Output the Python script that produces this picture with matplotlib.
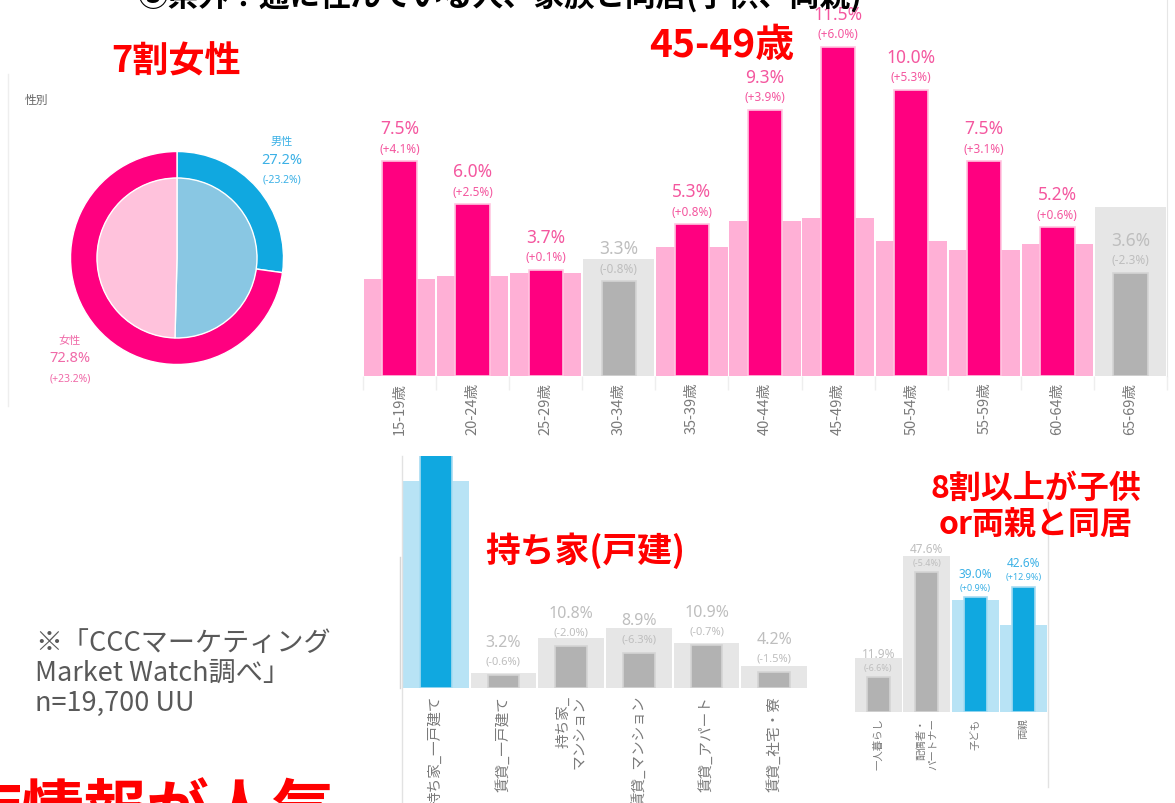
import matplotlib
matplotlib.use('Agg')
import matplotlib.pyplot as plt
from matplotlib.lines import Line2D
import numpy as np

plt.rcParams['font.family'] = ['Noto Sans CJK JP', 'DejaVu Sans']

# ---------------- data ----------------
gender_labels = ['男性', '女性']
gender_values = [27.2, 72.8]
gender_diff = [-23.2, 23.2]

age_labels = ['15-19歳', '20-24歳', '25-29歳', '30-34歳', '35-39歳', '40-44歳',
              '45-49歳', '50-54歳', '55-59歳', '60-64歳', '65-69歳']
age_values = [7.5, 6.0, 3.7, 3.3, 5.3, 9.3, 11.5, 10.0, 7.5, 5.2, 3.6]
age_diff = [4.1, 2.5, 0.1, -0.8, 0.8, 3.9, 6.0, 5.3, 3.1, 0.6, -2.3]

housing_labels = ['持ち家_一戸建て', '賃貸_一戸建て', '持ち家_\nマンション',
                  '賃貸_マンション', '賃貸_アパート', '賃貸_社宅・寮']
housing_values = [62.5, 3.2, 10.8, 8.9, 10.9, 4.2]
housing_diff = [9.7, -0.6, -2.0, -6.3, -0.7, -1.5]

household_labels = ['一人暮らし', '配偶者・\nパートナー', '子ども', '両親']
household_values = [11.9, 47.6, 39.0, 42.6]
household_diff = [-6.6, -5.4, 0.9, 12.9]

# ---------------- colours ----------------
PINK = '#ff0080'
PINK_BG = '#ffb0d6'
PINK_EDGE = '#ffc6e0'
PINK_TXT = '#f4579f'
BLUE = '#10a8e0'
BLUE_BG = '#b8e3f5'
BLUE_EDGE = '#a8dcf2'
BLUE_TXT = '#3cb1e6'
GRAY = '#b2b2b2'
GRAY_BG = '#e6e6e6'
GRAY_EDGE = '#d4d4d4'
GRAY_TXT = '#bebebe'
RED = '#ff0000'
TICK_COL = '#7a7a7a'

W, H = 1175, 804
fig = plt.figure(figsize=(W / 100, H / 100), dpi=100)


def add_ax(left, top, right, bottom):
    return fig.add_axes([left / W, 1 - bottom / H, (right - left) / W, (bottom - top) / H])


def ftext(x, y, s, **kw):
    fig.text(x / W, 1 - y / H, s, **kw)


def fline(x0, y0, x1, y1, **kw):
    fig.add_artist(Line2D([x0 / W, x1 / W], [1 - y0 / H, 1 - y1 / H], **kw))


def draw_bars(ax, values, diffs, hi, hi_bg, hi_edge, hi_txt,
              pct_fs, diff_fs, pct_off, diff_off):
    x = np.arange(len(values))
    bench = [v - d for v, d in zip(values, diffs)]
    pos = [d > 0 for d in diffs]
    ax.bar(x, bench, width=0.975, color=[hi_bg if p else GRAY_BG for p in pos],
           linewidth=0, zorder=1)
    ax.bar(x, values, width=0.47, color=[hi if p else GRAY for p in pos],
           edgecolor=[hi_edge if p else GRAY_EDGE for p in pos], linewidth=1.2, zorder=2)
    for xi, v, d, p in zip(x, values, diffs, pos):
        col = hi_txt if p else GRAY_TXT
        ax.annotate(f'{v:.1f}%', (xi, v), xytext=(0, pct_off), textcoords='offset pixels',
                    ha='center', va='center', fontsize=pct_fs, color=col,
                    family=['Noto Sans', 'DejaVu Sans'], annotation_clip=True, zorder=3)
        ax.annotate(f'({d:+.1f}%)', (xi, v), xytext=(0, diff_off), textcoords='offset pixels',
                    ha='center', va='center', fontsize=diff_fs, color=col,
                    family=['Noto Sans', 'DejaVu Sans'], annotation_clip=True, zorder=3)
    ax.set_xlim(-0.5, len(values) - 0.5)
    for s in ax.spines.values():
        s.set_visible(False)
    ax.set_yticks([])
    return x


# ---------------- title (cut at top) ----------------
ftext(500, -4, '③県外？通に住んでいる人、家族と同居(子供、両親)', ha='center', va='center',
      fontsize=22, fontweight='bold', color='black')

# ---------------- gender donut ----------------
fline(8, 75, 8, 407, color='#eeeeee', lw=1)
ftext(36, 100, '性別', ha='center', va='center', fontsize=8.5, color='#666666')
cx, cy, R = 177, 259, 120
axp = add_ax(cx - R, cy - R, cx + R, cy + R)
axp.pie(gender_values, radius=106.5 / R, startangle=90, counterclock=False,
        colors=[BLUE, PINK], wedgeprops=dict(width=27 / R, edgecolor='white', linewidth=1))
axp.pie([v - d for v, d in zip(gender_values, gender_diff)], radius=80 / R, startangle=90,
        counterclock=False, colors=['#89c7e3', '#ffc2dc'],
        wedgeprops=dict(edgecolor='white', linewidth=1))
axp.set_xlim(-1, 1)
axp.set_ylim(-1, 1)
axp.set_aspect('equal')
axp.axis('off')

gtxt = ['#3cb1e6', '#f06aa8']
gpos = [(282, 142), (70, 341)]
for (gx, gy), lab, v, d, c in zip(gpos, gender_labels, gender_values, gender_diff, gtxt):
    ftext(gx, gy, lab, ha='center', va='center', fontsize=8, color=c)
    ftext(gx, gy + 18, f'{v:.1f}%', ha='center', va='center', fontsize=10.5, color=c,
          family=['Noto Sans', 'DejaVu Sans'])
    ftext(gx, gy + 38, f'({d:+.1f}%)', ha='center', va='center', fontsize=7.5, color=c,
          family=['Noto Sans', 'DejaVu Sans'])

ftext(176, 62, '7割女性', ha='center', va='center', fontsize=26, fontweight='bold', color=RED)

# ---------------- age chart ----------------
axa = add_ax(363, 0, 1167, 377)
xa = draw_bars(axa, age_values, age_diff, PINK, PINK_BG, PINK_EDGE, PINK_TXT,
               12.5, 8.5, 33, 13)
axa.set_ylim(0, 377 / 28.65)
axa.set_xticks(xa, age_labels, rotation=90, fontsize=10.5, color=TICK_COL)
axa.tick_params(axis='x', length=0, pad=4)
axa.set_xticks(np.arange(len(age_values) + 1) - 0.5, minor=True)
axa.tick_params(axis='x', which='minor', length=10, color='#eeeeee', width=1)
axa.spines['right'].set_visible(True)
axa.spines['right'].set_color('#e6e6e6')

ftext(722, 46, '45-49歳', ha='center', va='center', fontsize=28, fontweight='bold', color=RED)

# ---------------- housing chart ----------------
axh = add_ax(402, 457, 808, 689)
xh = draw_bars(axh, housing_values, housing_diff, BLUE, BLUE_BG, BLUE_EDGE, GRAY_TXT,
               11.5, 8, 33, 14)
axh.set_ylim(0, (689 - 457) / 3.92)
axh.set_xticks(xh, housing_labels, rotation=90, fontsize=10.5, color=TICK_COL,
               multialignment='right')
axh.tick_params(axis='x', length=0, pad=5)
axh.plot([0, 0], [1, (689 - 804) / (689 - 457)], transform=axh.transAxes,
         color='#e2e2e2', lw=1, clip_on=False)
fline(399.5, 558, 399.5, 689, color='#d6d6d6', lw=1)

ftext(585, 551, '持ち家(戸建)', ha='center', va='center', fontsize=25, fontweight='bold',
      color=RED)

# ---------------- household chart ----------------
axo = add_ax(854, 505, 1048, 713)
xo = draw_bars(axo, household_values, household_diff, BLUE, BLUE_BG, BLUE_EDGE, BLUE_TXT,
               8.5, 6.5, 24, 10)
axo.set_ylim(0, (713 - 505) / 2.94)
axo.set_xticks(xo, household_labels, rotation=90, fontsize=7.5, color=TICK_COL,
               multialignment='right')
axo.tick_params(axis='x', length=0, pad=4)
axo.plot([1, 1], [(713 - 788) / 208, (713 - 503) / 208], transform=axo.transAxes,
         color='#e2e2e2', lw=1, clip_on=False)

ftext(1036, 507, '8割以上が子供\nor両親と同居', ha='center', va='center', fontsize=23,
      fontweight='bold', color=RED, linespacing=1.2)

# ---------------- footnote & bottom text ----------------
ftext(35, 630, '※「CCCマーケティング\nMarket Watch調べ」\nn=19,700 UU', ha='left', va='top',
      fontsize=19.5, color='#595959', linespacing=1.15)
ftext(-40, 781, '店情報が人気', ha='left', va='top', fontsize=45, fontweight='bold', color=RED)

fig.savefig('out.png', dpi=100)
